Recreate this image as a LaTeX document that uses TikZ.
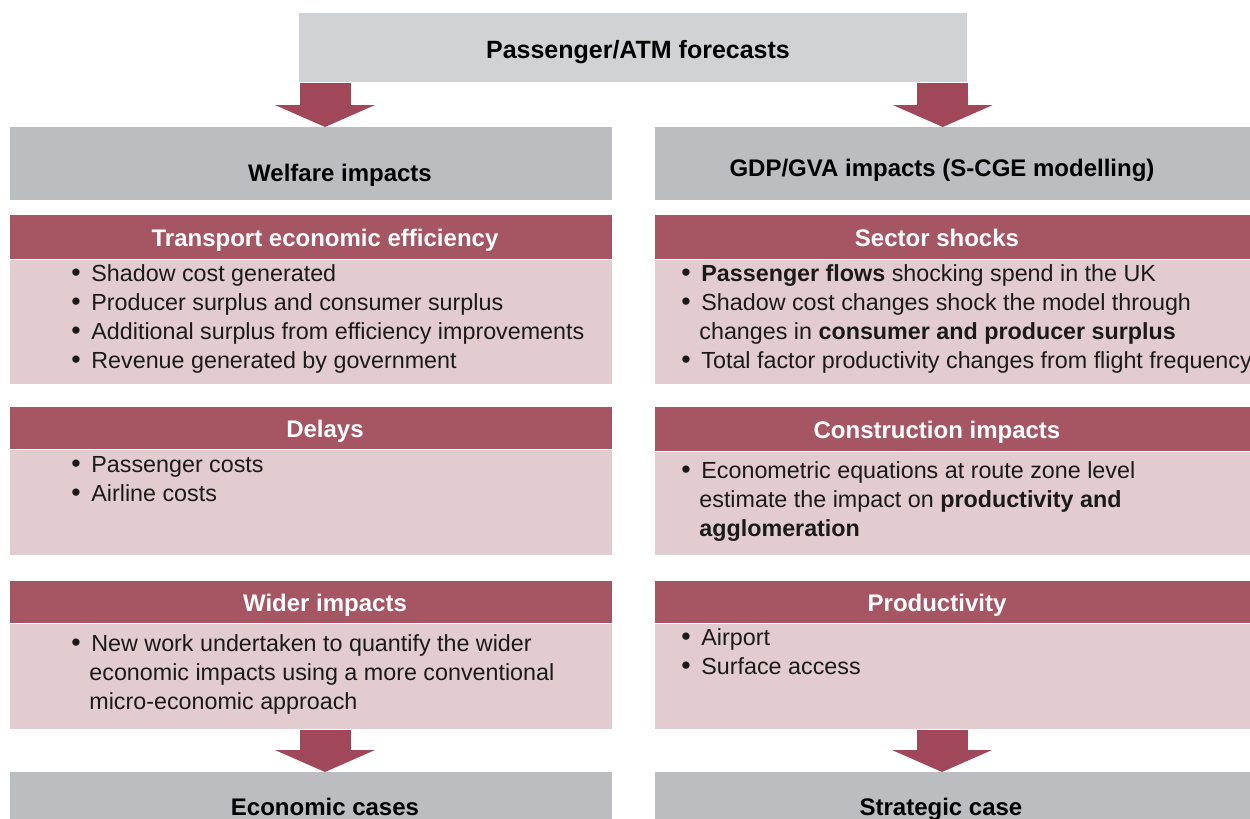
\documentclass[tikz,border=0pt]{standalone}
\usepackage{fontspec}
\setmainfont{Liberation Sans}
\usepackage{tikz}
\usetikzlibrary{arrows.meta,positioning}

\definecolor{topgray}{HTML}{D1D2D4}
\definecolor{boxgray}{HTML}{BCBDC0}
\definecolor{headred}{HTML}{A65563}
\definecolor{arrowred}{HTML}{A0475A}
\definecolor{bodypink}{HTML}{E3CCD0}
\definecolor{bodytext}{HTML}{1A1A1A}

\tikzset{
	box/.style={rectangle, inner sep=0pt, anchor=north west, minimum width=301pt},
	graybox/.style={box, fill=boxgray, minimum height=36.5pt},
	headbox/.style={box, fill=headred, minimum height=22pt},
	bodybox/.style={box, fill=bodypink},
	headtext/.style={font=\bfseries\fontsize{12}{14}\selectfont, text=white, inner sep=0pt, anchor=base},
	casetext/.style={font=\bfseries\fontsize{12}{14}\selectfont, text=black, inner sep=0pt, anchor=base},
	bullets/.style={font=\fontsize{11.65}{14.5}\selectfont, text=bodytext, align=left, anchor=north west, inner sep=0pt},
	bigarrow/.style={draw=arrowred, line width=25.5pt, -{Triangle[width=50pt,length=11pt,line width=0pt 0]}},
}
\newcommand{\bl}{\strut\makebox[10pt][l]{\scalebox{1.15}{\textbullet}}}
\newcommand{\cont}{\strut\hspace{9pt}}

\begin{document}
\begin{tikzpicture}[x=0.5pt,y=-0.5pt]
	\clip (0,0) rectangle (1250,819);

	% Forecasts on top
	\node[box, fill=topgray, minimum width=334pt, minimum height=34.5pt] (top) at (299,13) {};
	\node[casetext, font=\bfseries\fontsize{12.5}{14}\selectfont] (toptxt) at (638,58) {Passenger/ATM forecasts};

	% Two strands
	\node[graybox] (welf) at (10,127) {};
	\node[casetext] (welftxt) at (340,181) {Welfare impacts};
	\node[graybox] (gdp) at (655,127) {};
	\node[casetext] (gdptxt) at (942,176) {GDP/GVA impacts (S-CGE modelling)};

	% Arrows down from forecasts
	\draw[bigarrow] ([xshift=13pt]top.south west) -- ([xshift=13pt]top.south west |- welf.north);
	\draw[bigarrow] ([xshift=-12.5pt]top.south east) -- ([xshift=-12.5pt]top.south east |- gdp.north);

	%Left column
	%Transport economic efficiency
	\node[headbox] (transhead) at (10,215) {};
	\node[headtext] (transtxt) at (325,246) {Transport economic efficiency};
	\node[bodybox, minimum height=62pt] (transbody) at (transhead.south west) {};
	\node[bullets] (translist) at (71,261) {\bl Shadow cost generated\\
		\bl Producer surplus and consumer surplus\\
		\bl Additional surplus from efficiency improvements\\
		\bl Revenue generated by government};
	%Delays
	\node[headbox, minimum height=21pt] (delayhead) at (10,407) {};
	\node[headtext] (delaytxt) at (325,437) {Delays};
	\node[bodybox, minimum height=52.5pt] (delaybody) at (delayhead.south west) {};
	\node[bullets] (delaylist) at (71,452) {\bl Passenger costs\\
		\bl Airline costs};
	%Wider impacts
	\node[headbox, minimum height=21pt] (widerhead) at (10,581) {};
	\node[headtext] (widertxt) at (325,611) {Wider impacts};
	\node[bodybox, minimum height=52.5pt] (widerbody) at (widerhead.south west) {};
	\node[bullets] (widerlist) at (71,631) {\bl New work undertaken to quantify the wider\\
		\cont economic impacts using a more conventional\\
		\cont micro-economic approach};

	%Right column
	%Sector shocks
	\node[headbox] (sectorhead) at (655,215) {};
	\node[headtext] (sectortxt) at (937,246) {Sector shocks};
	\node[bodybox, minimum height=62pt] (sectorbody) at (sectorhead.south west) {};
	\node[bullets] (sectorlist) at (681,261) {\bl\textbf{Passenger flows} shocking spend in the UK\\
		\bl Shadow cost changes shock the model through\\
		\cont changes in \textbf{consumer and producer surplus}\\
		\bl Total factor productivity changes from flight frequency};
	%Construction impacts
	\node[headbox] (constrhead) at (655,407) {};
	\node[headtext] (constrtxt) at (937,438) {Construction impacts};
	\node[bodybox, minimum height=51.5pt] (constrbody) at (constrhead.south west) {};
	\node[bullets] (constrlist) at (681,458) {\bl Econometric equations at route zone level\\
		\cont estimate the impact on \textbf{productivity and}\\
		\cont\textbf{agglomeration}};
	%Productivity
	\node[headbox, minimum height=21pt] (prodhead) at (655,581) {};
	\node[headtext] (prodtxt) at (937,611) {Productivity};
	\node[bodybox, minimum height=52.5pt] (prodbody) at (prodhead.south west) {};
	\node[bullets] (prodlist) at (681,625) {\bl Airport\\
		\bl Surface access};

	% Cases at the bottom
	\node[graybox, minimum height=35pt] (econ) at (10,772) {};
	\node[casetext] (econtxt) at (325,815) {Economic cases};
	\node[graybox, minimum height=35pt] (strat) at (655,772) {};
	\node[casetext] (strattxt) at (941,815) {Strategic case};

	\draw[bigarrow] ([xshift=157.5pt]widerbody.south west) -- ([xshift=157.5pt]widerbody.south west |- econ.north);
	\draw[bigarrow] ([xshift=143.5pt]prodbody.south west) -- ([xshift=143.5pt]prodbody.south west |- strat.north);

\end{tikzpicture}
\end{document}
